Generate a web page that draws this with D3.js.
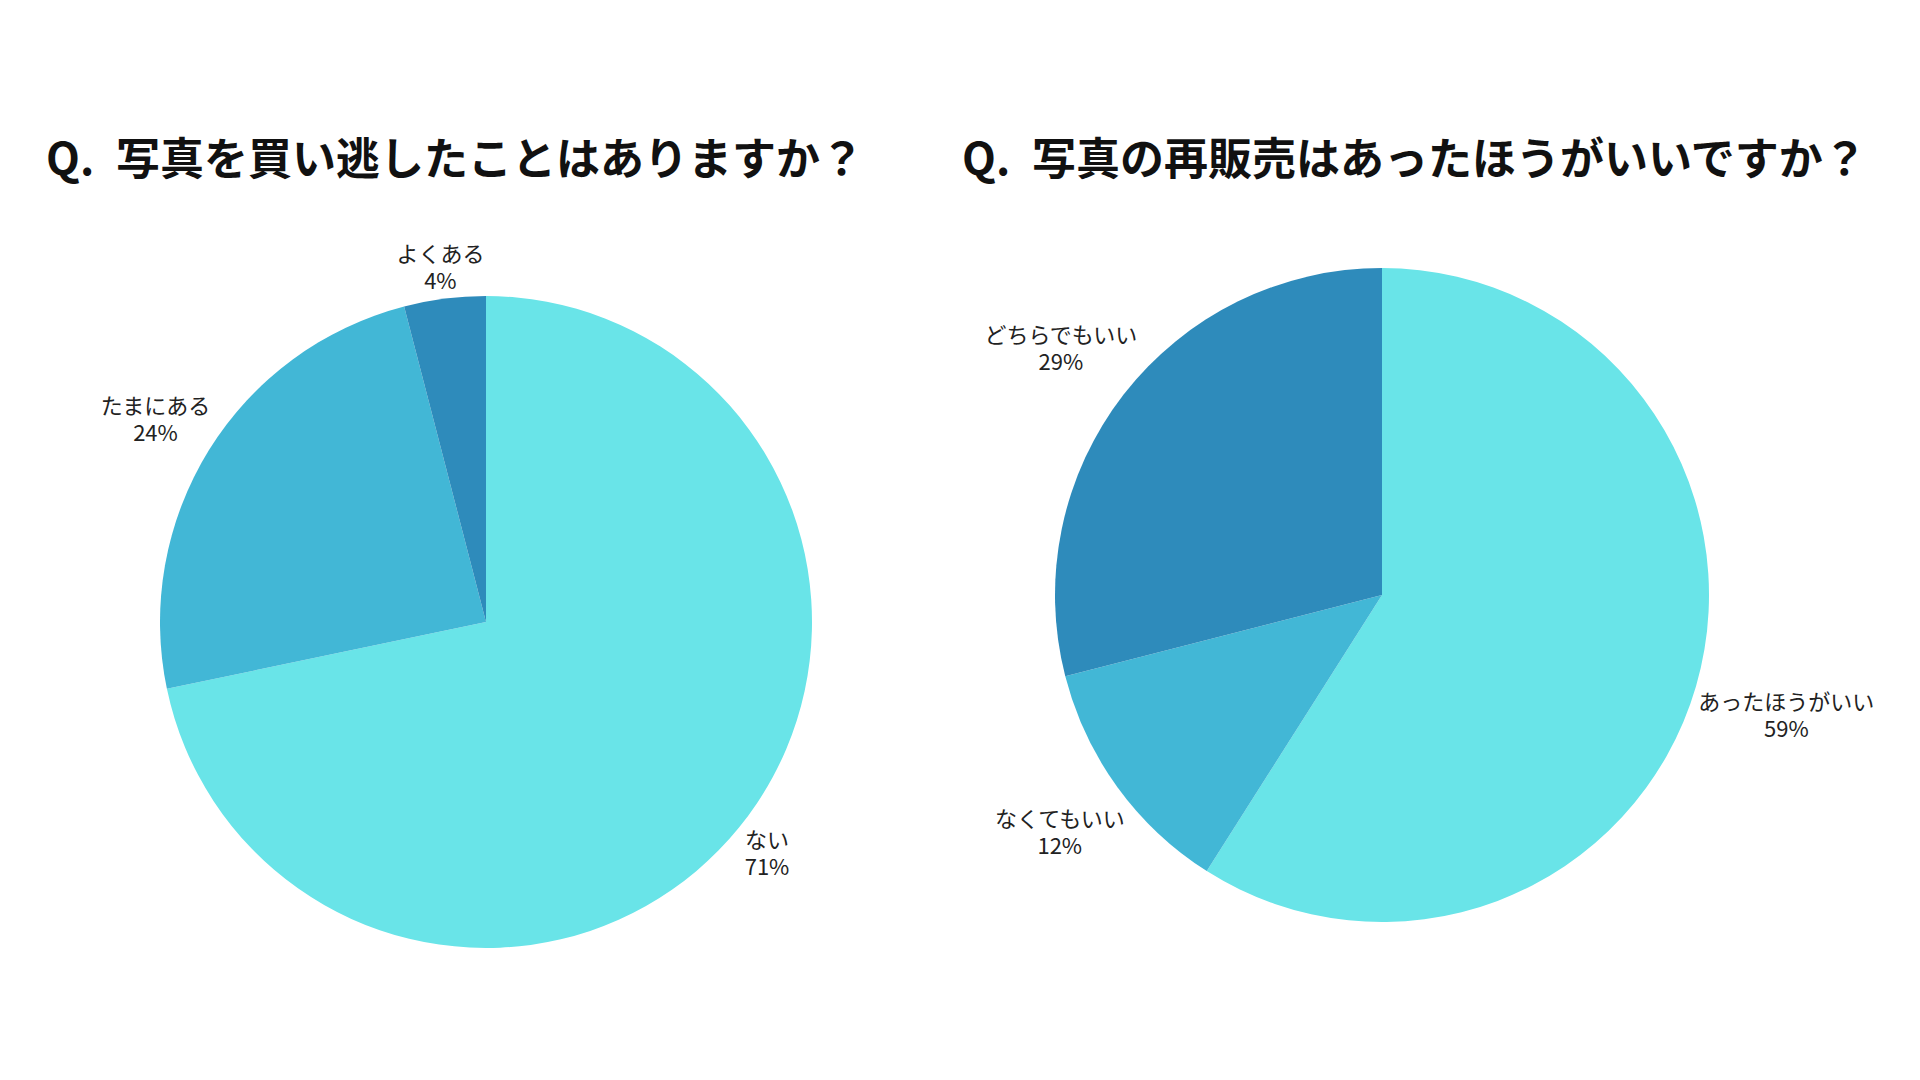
<!DOCTYPE html>
<html><head><meta charset="utf-8">
<script src="https://cdn.jsdelivr.net/npm/d3@7"></script>
<style>
html,body{margin:0;padding:0;background:#fff;}
svg{display:block;}
text{font-family:"Noto Sans CJK JP","Noto Sans",sans-serif;}
</style></head>
<body>
<svg id="c" width="1920" height="1080"></svg>
<script>
// Chart 1
const title1 = "写真を買い逃したことはありますか？";
const categories1 = ["ない", "たまにある", "よくある"];
const values1 = [71, 24, 4];
const labels1 = ["71%", "24%", "4%"];
// Chart 2
const title2 = "写真の再販売はあったほうがいいですか？";
const categories2 = ["あったほうがいい", "なくてもいい", "どちらでもいい"];
const values2 = [59, 12, 29];
const labels2 = ["59%", "12%", "29%"];
const colors = ["#69e4e8", "#42b7d6", "#2e8bbb"];

const svg = d3.select("#c");

function drawTitle(qx, tx, text) {
  const t = svg.append("text").attr("y", 175).attr("font-size", 44).attr("font-weight", 700).attr("fill", "#111");
  t.append("tspan").attr("x", qx).text("Q.");
  t.append("tspan").attr("x", tx).text(text);
}
drawTitle(46, 116, title1);
drawTitle(962, 1032, title2);

function drawPie(cx, cy, r, cats, vals, labs) {
  const g = svg.append("g").attr("transform", `translate(${cx},${cy})`);
  const pie = d3.pie().sort(null).value(d => d)(vals);
  const arc = d3.arc().innerRadius(0).outerRadius(r);
  g.selectAll("path").data(pie).join("path")
    .attr("d", arc).attr("fill", (d, i) => colors[i]);
  const fs = 22, lh = 27;
  pie.forEach((d, i) => {
    const a = (d.startAngle + d.endAngle) / 2;
    const s = Math.sin(a), c = -Math.cos(a);
    const w = Math.max(cats[i].length * fs, labs[i].length * fs * 0.55);
    const hw = w / 2, hh = lh;
    const R0 = r + 2;
    const off = hw * Math.abs(s) + hh * Math.abs(c);
    const lx = (R0 + off) * s, ly = (R0 + off) * c;
    const t = g.append("text").attr("text-anchor", "middle").attr("font-size", fs).attr("fill", "#222");
    t.append("tspan").attr("x", lx).attr("y", ly - lh / 2 + 11).text(cats[i]);
    t.append("tspan").attr("x", lx).attr("y", ly + lh / 2 + 11).text(labs[i]);
  });
}
drawPie(486, 622, 326, categories1, values1, labels1);
drawPie(1382, 595, 327, categories2, values2, labels2);
</script>
</body></html>
